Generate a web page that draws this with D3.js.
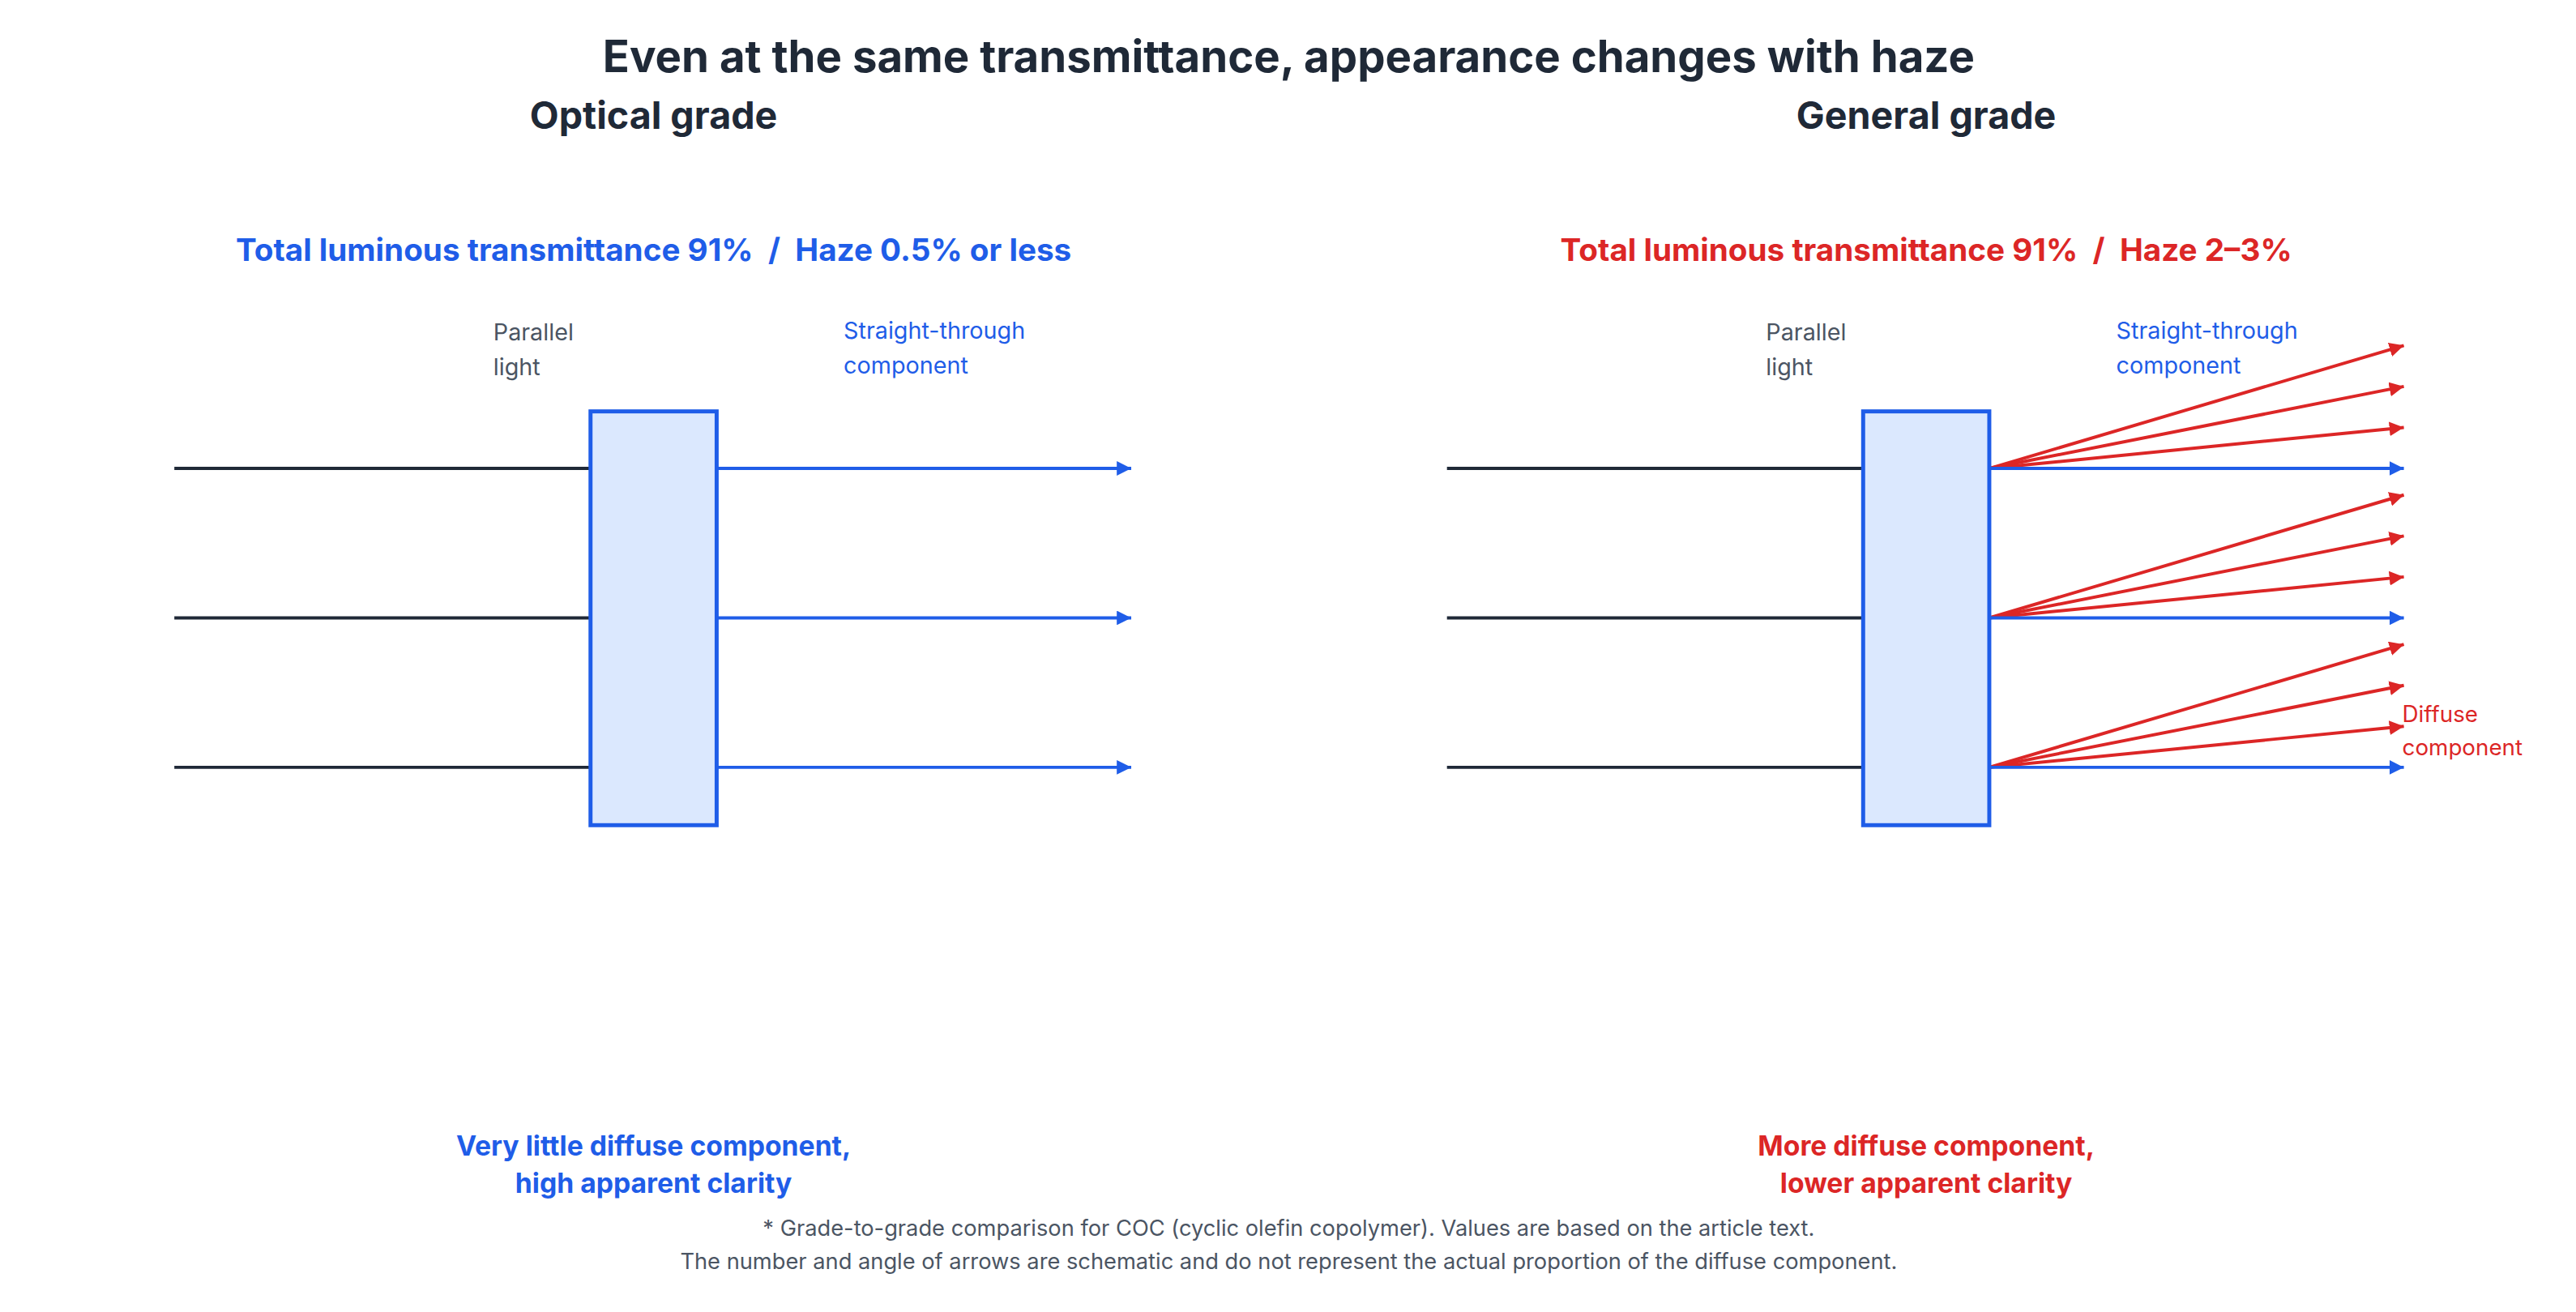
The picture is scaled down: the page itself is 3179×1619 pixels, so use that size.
<!DOCTYPE html>
<html><head><meta charset="utf-8">
<script src="https://cdn.jsdelivr.net/npm/d3@7"></script>
<style>body{margin:0;background:#fff}text{font-family:Inter,"Noto Sans",sans-serif;white-space:pre}</style>
</head><body><svg id="c" width="3179" height="1619"></svg>
<script>
const panels = ["Optical grade", "General grade"];
const specs = ["Total luminous transmittance 91%  /  Haze 0.5% or less", "Total luminous transmittance 91%  /  Haze 2–3%"];
const conclusions = [["Very little diffuse component,", "high apparent clarity"], ["More diffuse component,", "lower apparent clarity"]];
const colors = ["#1f5de8", "#dc2626"];
const rays = [1, 2, 3];               // ray rows
const diffuseOffsets = [[], [3, 2, 1]]; // diffuse arrows per ray
const footnotes = ["* Grade-to-grade comparison for COC (cyclic olefin copolymer). Values are based on the article text.",
  "The number and angle of arrows are schematic and do not represent the actual proportion of the diffuse component."];

const svg = d3.select("#c");
const root = svg.append("g").attr("transform", "scale(0.9915)");
const dark = "#1f2937";
const rowY = d3.scaleLinear().domain([1, 3]).range([583, 955]);
const defs = svg.append("defs");
colors.forEach((c, i) => defs.append("marker").attr("id", "m" + i).attr("viewBox", "0 0 10 10")
  .attr("refX", 10).attr("refY", 5).attr("markerWidth", 4.5).attr("markerHeight", 4.5)
  .attr("markerUnits", "strokeWidth").attr("orient", "auto")
  .append("path").attr("d", "M0,0L10,5L0,10z").attr("fill", c));

root.append("text").attr("x", 1604).attr("y", 90).attr("text-anchor", "middle")
  .attr("font-size", 55).attr("font-weight", 700).attr("fill", dark)
  .text("Even at the same transmittance, appearance changes with haze");

panels.forEach((p, i) => {
  const ox = i * 1584;
  const x = d3.scaleLinear().domain([0, 1]).range([ox, ox + 1]);
  const g = root.append("g");
  const rectX0 = x(735), rectX1 = x(892), cx = (rectX0 + rectX1) / 2;
  g.append("text").attr("x", cx).attr("y", 160).attr("text-anchor", "middle")
    .attr("font-size", 47).attr("font-weight", 700).attr("fill", dark).text(p);
  g.append("text").attr("x", cx).attr("y", 325).attr("text-anchor", "middle")
    .attr("font-size", 39).attr("font-weight", 700).attr("fill", colors[i]).text(specs[i]);
  g.selectAll(".pl").data(["Parallel", "light"]).join("text").attr("x", x(614))
    .attr("y", (d, j) => 424 + j * 43).attr("font-size", 29).attr("fill", "#4b5563").text(d => d);
  g.selectAll(".st").data(["Straight-through", "component"]).join("text").attr("x", x(1050))
    .attr("y", (d, j) => 422 + j * 43).attr("font-size", 29).attr("fill", colors[0]).text(d => d);
  const endX = x(1408);
  rays.forEach(r => {
    const yy = rowY(r);
    g.append("line").attr("x1", x(217)).attr("x2", rectX0).attr("y1", yy).attr("y2", yy)
      .attr("stroke", dark).attr("stroke-width", 4);
    diffuseOffsets[i].forEach(o => {
      g.append("line").attr("x1", rectX1).attr("y1", yy).attr("x2", endX).attr("y2", yy - o * 51)
        .attr("stroke", colors[1]).attr("stroke-width", 4).attr("marker-end", "url(#m1)");
    });
    g.append("line").attr("x1", rectX1).attr("x2", endX).attr("y1", yy).attr("y2", yy)
      .attr("stroke", colors[0]).attr("stroke-width", 4).attr("marker-end", "url(#m0)");
  });
  g.append("rect").attr("x", rectX0).attr("y", 512).attr("width", rectX1 - rectX0).attr("height", 515)
    .attr("fill", "#dbe8fe").attr("stroke", colors[0]).attr("stroke-width", 5);
  if (i === 1) g.selectAll(".df").data(["Diffuse", "component"]).join("text").attr("x", endX - 2)
    .attr("y", (d, j) => 899 + j * 41).attr("font-size", 28).attr("fill", colors[1]).text(d => d);
  g.selectAll(".cc").data(conclusions[i]).join("text").attr("x", cx).attr("y", (d, j) => 1438 + j * 47)
    .attr("text-anchor", "middle").attr("font-size", 34).attr("font-weight", 700).attr("fill", colors[i]).text(d => d);
});
root.selectAll(".fn").data(footnotes).join("text").attr("x", 1604).attr("y", (d, j) => 1538 + j * 41)
  .attr("text-anchor", "middle").attr("font-size", 27.5).attr("fill", "#4b5563").text(d => d);
</script></body></html>
